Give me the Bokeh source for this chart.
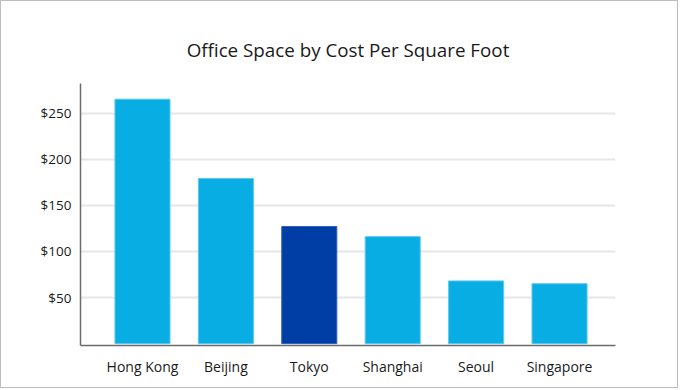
from bokeh.plotting import figure
from bokeh.models import Range1d, FixedTicker, ColumnDataSource, NumeralTickFormatter
from bokeh.embed import file_html
from bokeh.resources import INLINE

# ---- data ----
cities = ["Hong Kong", "Beijing", "Tokyo", "Shanghai", "Seoul", "Singapore"]
cost = [265, 179, 127, 116, 68, 65]
bar_colors = ["#08ADE4", "#08ADE4", "#003DA5", "#08ADE4", "#08ADE4", "#08ADE4"]
edge_colors = ["#5CC8EE", "#5CC8EE", "#2F5FB8", "#5CC8EE", "#5CC8EE", "#5CC8EE"]
y_ticks = [50, 100, 150, 200, 250]
title_text = "Office Space by Cost Per Square Foot"

idx = list(range(len(cities)))
src = ColumnDataSource(dict(x=idx, top=cost, fill=bar_colors, edge=edge_colors, name=cities))

FONT = "Open Sans"

p = figure(width=678, height=388, output_backend="svg", toolbar_location=None,
           x_range=Range1d(-0.743, 5.671), y_range=Range1d(-2, 282),
           min_border_left=79, min_border_right=64, min_border_top=82, min_border_bottom=44,
           title=title_text)
p.styles = {"border": "1px solid #bdbdbd", "margin-left": "0px", "margin-top": "0px"}

p.vbar(x="x", top="top", bottom=0, width=0.66, source=src,
       fill_color="fill", line_color="edge", line_width=1)

# title
p.title.align = "center"
p.title.text_font = FONT
p.title.text_font_size = "18.8px"
p.title.text_font_style = "normal"
p.title.text_color = "#1a1a1a"
p.title.standoff = 42

# axes
p.outline_line_color = None
p.xgrid.grid_line_color = None
p.ygrid.grid_line_color = "#e6e6e6"
p.ygrid.grid_line_width = 2

p.yaxis.ticker = FixedTicker(ticks=y_ticks)
p.yaxis.formatter = NumeralTickFormatter(format="$0")
p.xaxis.ticker = FixedTicker(ticks=idx)
p.xaxis.major_label_overrides = {i: c for i, c in zip(idx, cities)}

for ax in (p.xaxis, p.yaxis):
    ax.axis_line_color = "#6b6b6b"
    ax.axis_line_width = 1.5
    ax.major_tick_line_color = None
    ax.minor_tick_line_color = None
    ax.major_label_text_font = FONT
    ax.major_label_text_color = "#1a1a1a"
p.yaxis.major_label_text_font_size = "13.5px"
p.xaxis.major_label_text_font_size = "14px"
p.yaxis.major_label_standoff = 3
p.xaxis.major_label_standoff = 5

open("out.html", "w").write(file_html(p, INLINE))
